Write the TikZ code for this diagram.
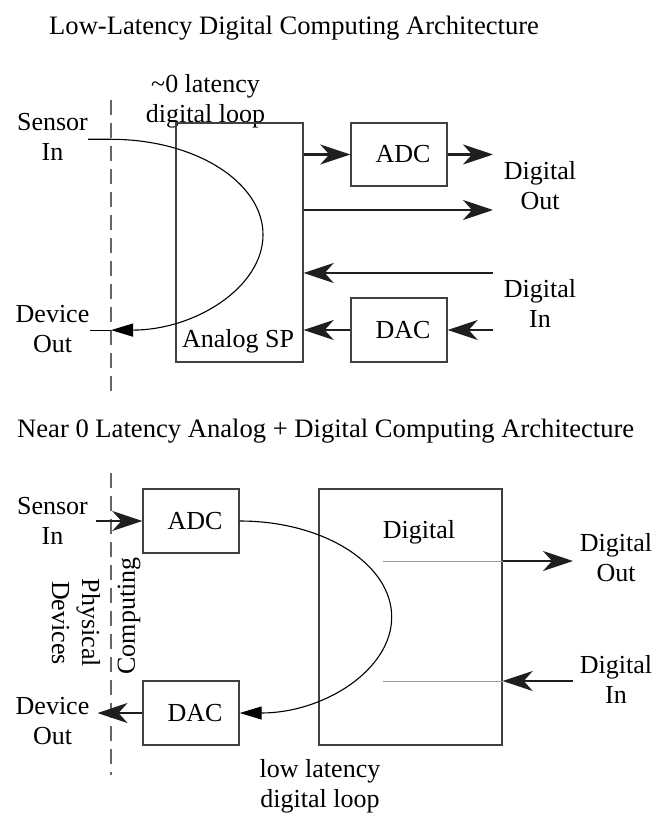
\documentclass[tikz,border=0pt]{standalone}
\usepackage{fontspec}
\setmainfont{Liberation Serif}
\usetikzlibrary{arrows.meta, positioning}

\begin{document}
\begin{tikzpicture}[x=1pt, y=-1pt,
    font=\fontsize{26}{30}\selectfont,
    every node/.style={inner sep=0pt, align=center},
    heading/.style={anchor=base west, font=\fontsize{26.6}{30}\selectfont},
    blk/.style={draw=black!75, line width=1.4pt},
    conv/.style={blk, minimum width=96pt, minimum height=64pt, label={[xshift=4pt]center:#1}},
    sig/.style={line width=2.4pt, draw=black!88, -{Stealth[length=30pt, width=20pt, inset=9pt]}},
    thinsig/.style={sig, line width=1.6pt},
    loopline/.style={line width=1.1pt},
    looptip/.style={-{Triangle[length=22pt, width=13pt]}},
    divider/.style={draw=black!60, line width=1.3pt, dash pattern=on 15pt off 8pt},
    tapline/.style={draw=black!40, line width=1pt}]
    \useasboundingbox (0,0) rectangle (653,813);

    % --- titles ---
    \node[heading] (ttl1) at (49,35) {Low-Latency Digital Computing Architecture};
    \node[heading] (ttl2) at (17,437) {Near 0 Latency Analog + Digital Computing Architecture};

    % --- dashed boundary ---
    \draw[divider] (111,100) -- (111,398);
    \draw[divider] (111,473) -- (111,775);

    % --- top: analog signal processing ---
    \node (sin1) at (52.5,137.2) {Sensor\\In};
    \node (dout1) at (52.5,329) {Device\\Out};
    \node (lbl1) at (205.5,101) {\textasciitilde0 latency\\digital loop};
    \node[blk, minimum width=127pt, minimum height=239pt] (asp) at (239.5,242.5) {};
    \node[anchor=base] (asptxt) at (238,347) {Analog SP};
    \node[conv=ADC, minimum height=63pt] (adc1) at (399,154.5) {};
    \node[conv=DAC] (dac1) at (399,330) {};
    \node (dgout1) at (540,186) {Digital\\Out};
    \node (dgin1) at (540,303) {Digital\\In};

    \coordinate (o1a) at (493,154.5);
    \coordinate (o1b) at (493,210);
    \coordinate (i1a) at (493,273);
    \coordinate (i1b) at (493,330);

    \draw[sig] (asp.east |- adc1) -- (adc1.west);
    \draw[sig] (adc1.east) -- (o1a);
    \draw[sig] (asp.east |- o1b) -- (o1b);
    \draw[sig] (i1a) -- (asp.east |- i1a);
    \draw[sig] (i1b) -- (dac1.east);
    \draw[sig] (dac1.west) -- (asp.east |- dac1);

    % loop through the analog block
    \coordinate (lp1a) at (111,139.3);
    \coordinate (lp1b) at (111,330.1);
    \draw[loopline, looptip] (sin1.east |- lp1a) -- (lp1a)
        arc[start angle=-90, end angle=90, x radius=152, y radius=95.4];
    \draw[loopline] (lp1b) -- (dout1.east |- lp1b);

    % --- bottom: converters + digital block ---
    \node (sin2) at (52.5,521) {Sensor\\In};
    \node (dout2) at (52.5,721) {Device\\Out};
    \node[conv=ADC] (adc2) at (191,521) {};
    \node[conv=DAC] (dac2) at (191,713) {};
    \node[blk, minimum width=183pt, minimum height=256pt] (dig) at (410.5,617) {};
    \node (digtxt) at (419,532) {Digital};
    \node (dgout2) at (616,558) {Digital\\Out};
    \node (dgin2) at (616,679) {Digital\\In};
    \node (lbl2) at (320,786) {low latency\\digital loop};
    \node[rotate=90] (cmp) at (129,616) {Computing};
    \node[rotate=-90] (phys) at (76,623) {Physical\\Devices};

    \draw[sig, shorten <=8pt] (sin2.east |- adc2.west) -- (adc2.west);
    \draw[sig, shorten >=8pt] (dac2.west) -- (dout2.east |- dac2.west);

    \draw[loopline, looptip] (adc2.east)
        arc[start angle=-90, end angle=90, x radius=152, y radius=96];

    \coordinate (tapo) at (383,561);
    \coordinate (tapi) at (383,681);
    \coordinate (o2) at (573,561);
    \coordinate (i2) at (573,681);
    \draw[tapline] (tapo) -- (dig.east |- tapo);
    \draw[tapline] (tapi) -- (dig.east |- tapi);
    \draw[sig] (dig.east |- tapo) -- (o2);
    \draw[thinsig] (i2) -- (dig.east |- tapi);
\end{tikzpicture}
\end{document}
